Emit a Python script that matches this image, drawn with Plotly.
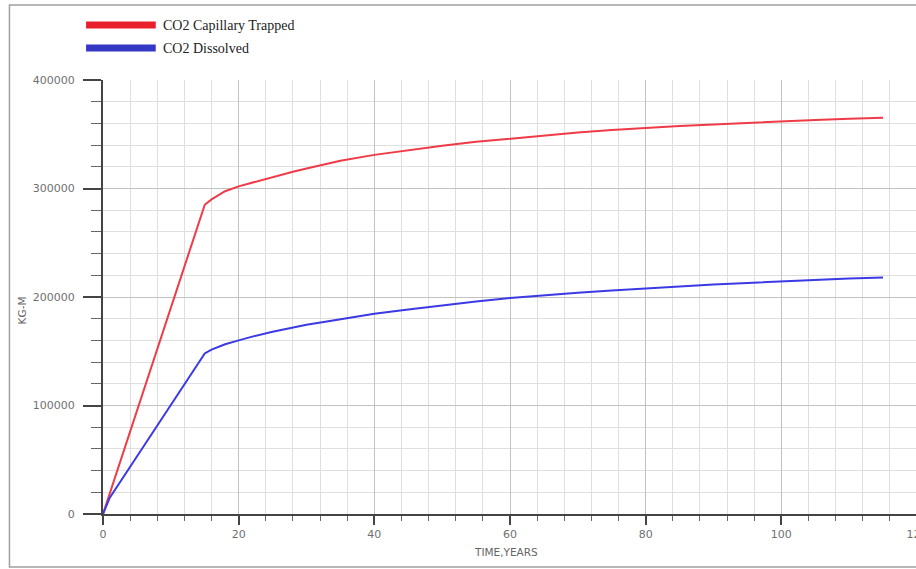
import plotly.graph_objects as go

# ---- data ----
t_trapped = [0, 5, 10, 15, 16, 17, 18, 20, 22, 25, 28, 30, 33, 35, 40, 45, 50,
             55, 60, 65, 70, 75, 80, 85, 90, 95, 100, 105, 110, 115]
co2_trapped = [0, 95000, 190000, 285000, 290000, 294000, 297500, 302000, 305500,
               310500, 315500, 318500, 323000, 325500, 331000, 335500, 339500,
               343000, 346000, 349000, 351500, 354000, 356000, 357500, 359000,
               360500, 362000, 363200, 364300, 365300]

t_dissolved = [0, 1, 5, 10, 15, 16, 17, 18, 20, 22, 25, 28, 30, 33, 35, 40, 45,
               50, 55, 60, 65, 70, 75, 80, 85, 90, 95, 100, 105, 110, 115]
co2_dissolved = [0, 15000, 53000, 100000, 148000, 151500, 154000, 156500, 160000,
                 163500, 168000, 172000, 174500, 177500, 179500, 184500, 188500,
                 192300, 195800, 199000, 201700, 204000, 206000, 208000, 210000,
                 211500, 213000, 214500, 216000, 217000, 218000]

series_names = ["CO2 Capillary Trapped", "CO2 Dissolved"]
x_title = "TIME,YEARS"
y_title = "KG-M"

# ---- layout geometry (pixels) ----
W, H = 940, 569
PL, PR, PT, PB = 103, 921, 80, 514


def px(x):
    return (x - PL) / (PR - PL)


def py(y):
    return (PB - y) / (PB - PT)


fig = go.Figure()
fig.add_trace(go.Scatter(x=t_trapped, y=co2_trapped, mode="lines",
                         line=dict(color="#ef3b47", width=2),
                         name=series_names[0], showlegend=False))
fig.add_trace(go.Scatter(x=t_dissolved, y=co2_dissolved, mode="lines",
                         line=dict(color="#3b3ae4", width=2),
                         name=series_names[1], showlegend=False))

tickfont = dict(family="DejaVu Sans", size=11, color="#707070")

fig.update_xaxes(range=[0, 120], dtick=20, tick0=0, showline=True,
                 linecolor="#444444", linewidth=2, ticks="outside", ticklen=9,
                 tickwidth=2, tickcolor="#444444", tickfont=tickfont,
                 showgrid=True, gridcolor="#c2c2c2", gridwidth=1,
                 zeroline=False, mirror=False,
                 minor=dict(dtick=4, tick0=0, ticks="outside", ticklen=5,
                            tickwidth=1, tickcolor="#666666", showgrid=True,
                            gridcolor="#dfdfdf", gridwidth=1))
fig.update_yaxes(range=[0, 400000], dtick=100000, tick0=0, showline=True,
                 linecolor="#444444", linewidth=2, ticks="outside", ticklen=18,
                 tickwidth=2, tickcolor="#444444", tickfont=tickfont,
                 showgrid=True, gridcolor="#c2c2c2", gridwidth=1,
                 zeroline=False, tickformat="d", ticklabelstandoff=6,
                 minor=dict(dtick=20000, tick0=0, ticks="outside", ticklen=10,
                            tickwidth=1, tickcolor="#666666", showgrid=True,
                            gridcolor="#dfdfdf", gridwidth=1))

shapes = [
    # outer frame
    dict(type="rect", xref="paper", yref="paper", x0=px(9), x1=px(1000),
         y0=py(567), y1=py(5), line=dict(color="#a0a0a0", width=1.5),
         layer="below"),
    # legend keys
    dict(type="line", xref="paper", yref="paper", x0=px(86), x1=px(156),
         y0=py(25), y1=py(25), line=dict(color="#e8202c", width=7)),
    dict(type="line", xref="paper", yref="paper", x0=px(86), x1=px(156),
         y0=py(48), y1=py(48), line=dict(color="#3438c4", width=7)),
]

legfont = dict(family="Liberation Serif", size=14, color="#222222")
annotations = [
    dict(xref="paper", yref="paper", x=px(161), y=py(25), text=series_names[0],
         showarrow=False, xanchor="left", yanchor="middle", font=legfont),
    dict(xref="paper", yref="paper", x=px(161), y=py(48), text=series_names[1],
         showarrow=False, xanchor="left", yanchor="middle", font=legfont),
    dict(xref="paper", yref="paper", x=px(508), y=py(552), text=x_title,
         showarrow=False, xanchor="center", yanchor="middle",
         font=dict(family="DejaVu Sans", size=10.5, color="#666666")),
    dict(xref="paper", yref="paper", x=px(22), y=py(310), text=y_title,
         showarrow=False, xanchor="center", yanchor="middle", textangle=-90,
         font=dict(family="DejaVu Sans", size=10.5, color="#666666")),
]

fig.update_layout(width=W, height=H, margin=dict(l=PL, r=W - PR, t=PT, b=H - PB),
                  paper_bgcolor="white", plot_bgcolor="white",
                  shapes=shapes, annotations=annotations, showlegend=False)

fig.write_html("out.html",
               post_script="document.documentElement.style.overflow='hidden';"
                           "document.body.style.overflow='hidden';")
